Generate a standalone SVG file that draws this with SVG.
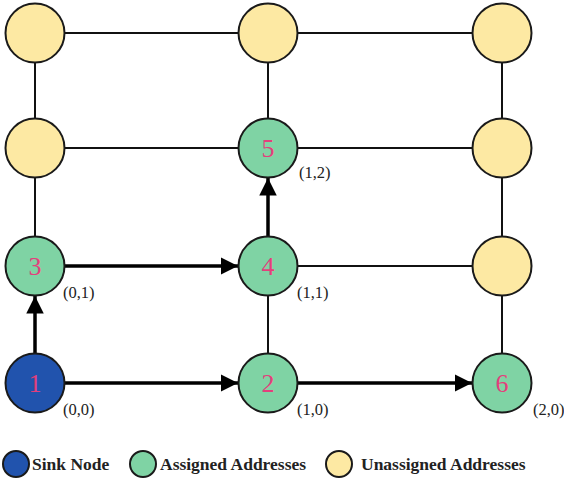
<svg xmlns="http://www.w3.org/2000/svg" width="564" height="480" viewBox="0 0 564 480">
<style>
.thin{stroke:#111;stroke-width:2;fill:none}
.thick{stroke:#000;stroke-width:3.5;fill:none;marker-end:url(#ah)}
.node{stroke:#1a1a1a;stroke-width:2}
.sink{fill:#2153ad}
.asg{fill:#7fd3a4}
.una{fill:#fde9a3}
.num{font-size:26px;fill:#e33f7c;text-anchor:middle}
.coord{font-size:16.5px;fill:#222}
.leg{font-size:17.5px;font-weight:bold;fill:#222}
</style>
<defs>
<marker id="ah" markerWidth="5" markerHeight="5" refX="5" refY="2.5" orient="auto" markerUnits="strokeWidth">
<path d="M0,0 L5,2.5 L0,5 Z" fill="#000"/>
</marker>
</defs>
<g id="connectors">
<line class="thin" x1="35" y1="33" x2="268" y2="33"/>
<line class="thin" x1="268" y1="33" x2="502" y2="33"/>
<line class="thin" x1="35" y1="148" x2="268" y2="148"/>
<line class="thin" x1="268" y1="148" x2="502" y2="148"/>
<line class="thin" x1="268" y1="266" x2="502" y2="266"/>
<line class="thin" x1="35" y1="33" x2="35" y2="148"/>
<line class="thin" x1="35" y1="148" x2="35" y2="266"/>
<line class="thin" x1="268" y1="33" x2="268" y2="148"/>
<line class="thin" x1="268" y1="266" x2="268" y2="383"/>
<line class="thin" x1="502" y1="33" x2="502" y2="148"/>
<line class="thin" x1="502" y1="148" x2="502" y2="266"/>
<line class="thin" x1="502" y1="266" x2="502" y2="383"/>
<line class="thick" x1="64" y1="266" x2="238" y2="266"/>
<line class="thick" x1="64" y1="383" x2="238" y2="383"/>
<line class="thick" x1="297" y1="383" x2="472" y2="383"/>
<line class="thick" x1="35" y1="354" x2="35" y2="296"/>
<line class="thick" x1="268" y1="237" x2="268" y2="178"/>
</g>
<g font-family="Liberation Serif, DejaVu Serif, serif">
<g id="n00u"><circle class="node una" cx="35" cy="33" r="29.5"/></g>
<g id="n10u"><circle class="node una" cx="268" cy="33" r="29.5"/></g>
<g id="n20u"><circle class="node una" cx="502" cy="33" r="29.5"/></g>
<g id="n01u"><circle class="node una" cx="35" cy="148" r="29.5"/></g>
<g id="node5"><circle class="node asg" cx="268" cy="148" r="29.5"/><text class="num" x="268" y="157">5</text><text class="coord" x="299" y="178">(1,2)</text></g>
<g id="n21u"><circle class="node una" cx="502" cy="148" r="29.5"/></g>
<g id="node3"><circle class="node asg" cx="35" cy="266" r="29.5"/><text class="num" x="35" y="275">3</text><text class="coord" x="63" y="298">(0,1)</text></g>
<g id="node4"><circle class="node asg" cx="268" cy="266" r="29.5"/><text class="num" x="268" y="275">4</text><text class="coord" x="297" y="298">(1,1)</text></g>
<g id="n22u"><circle class="node una" cx="502" cy="266" r="29.5"/></g>
<g id="node1"><circle class="node sink" cx="35" cy="383" r="29.5"/><text class="num" x="35" y="392">1</text><text class="coord" x="63" y="415">(0,0)</text></g>
<g id="node2"><circle class="node asg" cx="268" cy="383" r="29.5"/><text class="num" x="268" y="392">2</text><text class="coord" x="297" y="415">(1,0)</text></g>
<g id="node6"><circle class="node asg" cx="502" cy="383" r="29.5"/><text class="num" x="502" y="392">6</text><text class="coord" x="533" y="415">(2,0)</text></g>
<g id="legend">
<circle class="node sink" cx="16" cy="464" r="13"/>
<text class="leg" x="32" y="470">Sink Node</text>
<circle class="node asg" cx="143" cy="464" r="13"/>
<text class="leg" x="160" y="470">Assigned Addresses</text>
<circle class="node una" cx="339" cy="464" r="13"/>
<text class="leg" x="361" y="470">Unassigned Addresses</text>
</g>
</g>
</svg>
